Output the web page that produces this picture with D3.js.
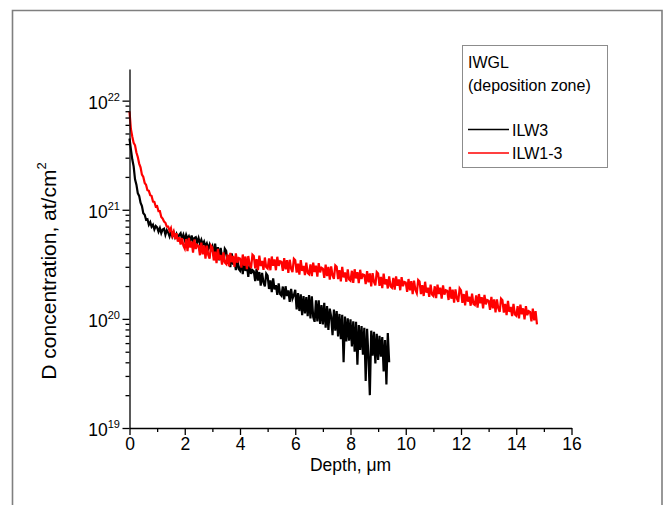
<!DOCTYPE html>
<html>
<head>
<meta charset="utf-8">
<script src="https://cdn.jsdelivr.net/npm/d3@7"></script>
<style>
  body { margin: 0; background: #fff; }
  svg { display: block; font-family: "Liberation Sans", Arial, sans-serif; }
</style>
</head>
<body>
<svg id="chart" width="665" height="505"></svg>
<script>
// depth step of the profiles, um
const depthStep = 0.05;

// ILW3, D concentration in units of 1e20 at/cm2, one value every 0.05 um from 0
const ilw3 = [
  45, 36, 29, 25, 19, 17, 14.2, 13.4, 11.6, 10.8,
  9.3, 9.0, 8.1, 8.2, 7.3, 7.7, 7.0, 7.3, 6.6, 7.1,
  6.9, 6.3, 6.8, 6.1, 6.6, 6.7, 5.9, 6.5, 6.2, 5.7,
  6.3, 5.7, 6.2, 5.6, 6.0, 5.5, 5.9, 6.1, 5.4, 5.9,
  5.3, 5.9, 5.4, 5.7, 5.2, 5.8, 5.1, 5.5, 5.6, 5.0,
  5.5, 4.9, 5.3, 4.8, 5.1, 4.6, 4.9, 4.4, 4.8, 4.3,
  4.62, 3.76, 4.89, 3.80, 4.55, 3.43, 4.47, 3.66, 3.36, 4.40,
  4.21, 3.19, 3.81, 2.98, 3.99, 3.14, 3.45, 2.80, 3.60, 2.87,
  2.76, 3.34, 2.57, 3.38, 2.75, 3.10, 2.43, 3.18, 2.58, 2.80,
  2.73, 2.22, 2.89, 2.24, 2.69, 2.02, 2.64, 2.16, 1.99, 2.60,
  2.49, 1.88, 2.25, 1.76, 2.35, 1.86, 2.04, 1.66, 2.12, 1.69,
  1.63, 1.98, 1.51, 1.99, 1.62, 1.82, 1.43, 1.88, 1.53, 1.65,
  1.85, 1.22, 1.72, 1.18, 1.68, 1.08, 1.62, 1.12, 1.58, 1.06,
  1.65, 1.01, 1.61, 1.04, 0.94, 1.48, 0.95, 1.48, 0.90, 1.34,
  0.89, 1.40, 0.83, 1.31, 0.79, 1.24, 1.05, 0.71, 1.22, 0.78,
  1.18, 0.69, 1.11, 0.65, 1.09, 0.40, 1.05, 0.62, 1.01, 0.63,
  0.99, 0.56, 0.95, 0.50, 0.94, 0.38, 0.88, 0.52, 0.86, 0.47,
  0.83, 0.27, 0.81, 0.45, 0.20, 0.78, 0.46, 0.76, 0.39, 0.73,
  0.42, 0.70, 0.45, 0.68, 0.33, 0.64, 0.25, 0.74, 0.40
];

// ILW1-3, same units and step
const ilw13 = [
  80, 55, 47, 41, 39, 33.5, 30.5, 26.5, 24.5, 21,
  20, 17.6, 16.9, 15.1, 14.9, 13.6, 13.4, 11.9, 11.8, 10.7,
  10.8, 9.7, 9.7, 8.6, 8.3, 7.8, 7.6, 7.0, 7.0, 6.4,
  6.8, 5.8, 6.3, 5.4, 6.1, 5.1, 5.6, 4.8, 5.5, 4.7,
  4.41, 5.39, 4.17, 5.52, 4.51, 5.12, 4.05, 5.34, 4.37, 4.77,
  4.67, 3.83, 5.00, 3.91, 4.72, 3.57, 4.69, 3.85, 3.56, 4.68,
  4.50, 3.43, 4.13, 3.25, 4.38, 3.48, 3.85, 3.15, 4.07, 3.28,
  3.18, 3.89, 3.03, 4.03, 3.31, 3.77, 2.99, 3.98, 3.28, 3.61,
  3.57, 2.95, 3.89, 3.07, 3.73, 2.85, 3.77, 3.13, 2.92, 3.87,
  3.76, 2.90, 3.52, 2.80, 3.80, 3.05, 3.40, 2.81, 3.65, 2.97,
  2.89, 3.58, 2.79, 3.73, 3.07, 3.51, 2.79, 3.71, 3.06, 3.37,
  3.33, 2.75, 3.61, 2.85, 3.45, 2.64, 3.48, 2.89, 2.68, 3.56,
  3.45, 2.66, 3.21, 2.54, 3.45, 2.75, 3.06, 2.52, 3.27, 2.64,
  2.57, 3.16, 2.46, 3.28, 2.69, 3.07, 2.44, 3.24, 2.67, 2.94,
  2.89, 2.38, 3.14, 2.47, 3.00, 2.29, 3.03, 2.50, 2.33, 3.09,
  3.00, 2.31, 2.79, 2.21, 3.00, 2.40, 2.66, 2.19, 2.84, 2.30,
  2.24, 2.76, 2.14, 2.85, 2.35, 2.68, 2.13, 2.82, 2.32, 2.55,
  2.52, 2.08, 2.74, 2.16, 2.61, 1.99, 2.63, 2.18, 2.03, 2.69,
  2.61, 2.01, 2.43, 1.91, 2.60, 2.07, 2.31, 1.90, 2.45, 1.98,
  1.93, 2.38, 1.85, 2.45, 2.01, 2.30, 1.83, 2.41, 1.99, 2.18,
  2.15, 1.77, 2.32, 1.83, 2.22, 1.69, 2.24, 1.84, 1.72, 2.27,
  2.20, 1.69, 2.04, 1.62, 2.19, 1.74, 1.93, 1.59, 2.06, 1.67,
  1.62, 1.99, 1.55, 2.06, 1.69, 1.93, 1.53, 2.03, 1.67, 1.83,
  1.81, 1.49, 1.96, 1.53, 1.85, 1.41, 1.86, 1.54, 1.43, 1.90,
  1.82, 1.40, 1.69, 1.33, 1.81, 1.44, 1.60, 1.32, 1.70, 1.37,
  1.34, 1.64, 1.27, 1.69, 1.39, 1.58, 1.25, 1.66, 1.36, 1.49,
  1.47, 1.21, 1.59, 1.25, 1.51, 1.15, 1.51, 1.25, 1.16, 1.53,
  1.48, 1.14, 1.37, 1.08, 1.46, 1.16, 1.29, 1.06, 1.37, 1.10,
  1.07, 1.31, 1.01, 1.35, 1.10, 1.25, 0.99, 1.31, 1.08, 1.18,
  1.16, 0.95, 1.24, 0.97, 1.18, 0.89
];

const xTicks = [0, 2, 4, 6, 8, 10, 12, 14, 16];
const xMinorTicks = [1, 3, 5, 7, 9, 11, 13, 15];
const yDecades = [19, 20, 21, 22];

const series = [
  { name: "ILW3", values: ilw3, color: "#000000" },
  { name: "ILW1-3", values: ilw13, color: "#ff0000" }
];

const svg = d3.select("#chart");
const font = "'Liberation Sans', Arial, sans-serif";

// outer frame (bottom edge is cut off in the original)
svg.append("path")
  .attr("d", "M12.5,520 L12.5,10.5 L662,10.5 L662,520")
  .attr("fill", "none")
  .attr("stroke", "#7f7f7f")
  .attr("stroke-width", 1.6);

const x = d3.scaleLinear().domain([0, 16]).range([129.5, 571.5]);
const y = d3.scaleLog().domain([1e19, Math.pow(10, 22.29)]).range([428, 69]);

// curves
const line = d3.line()
  .x((d, i) => x(i * depthStep))
  .y(d => y(d * 1e20));

svg.selectAll("path.curve")
  .data(series)
  .enter().append("path")
  .attr("class", "curve")
  .attr("d", d => line(d.values))
  .attr("fill", "none")
  .attr("stroke", d => d.color)
  .attr("stroke-width", 2.2)
  .attr("stroke-linejoin", "miter");

// x axis
const gx = svg.append("g").attr("transform", "translate(0,428)");
gx.call(d3.axisBottom(x).tickValues(xTicks).tickSize(7).tickSizeOuter(0).tickPadding(3));
gx.append("g")
  .call(d3.axisBottom(x).tickValues(xMinorTicks).tickSize(4).tickFormat(""))
  .select(".domain").remove();
gx.selectAll(".tick text")
  .attr("font-size", 17.5)
  .attr("font-family", font)
  .attr("fill", "#000");

// y axis
const gy = svg.append("g").attr("transform", "translate(129.5,0)");
gy.call(d3.axisLeft(y).tickValues(yDecades.map(e => Math.pow(10, e))).tickSize(7).tickSizeOuter(0).tickFormat(""));
const yMinor = [];
yDecades.slice(0, 3).forEach(e => {
  for (let k = 2; k <= 9; k++) yMinor.push(k * Math.pow(10, e));
});
gy.append("g")
  .call(d3.axisLeft(y).tickValues(yMinor).tickSize(4).tickFormat(""))
  .select(".domain").remove();

svg.selectAll(".domain, .tick line")
  .attr("stroke", "#000")
  .attr("stroke-width", 1.3);

// y tick labels 10^n
yDecades.forEach(e => {
  const t = svg.append("text")
    .attr("x", 120)
    .attr("y", y(Math.pow(10, e)) + 8)
    .attr("text-anchor", "end")
    .attr("font-family", font)
    .attr("font-size", 17.5);
  t.append("tspan").text("10");
  t.append("tspan").attr("font-size", 11).attr("dy", -8).text(e);
});

// axis titles
svg.append("text")
  .attr("x", x(8))
  .attr("y", 471)
  .attr("text-anchor", "middle")
  .attr("font-family", font)
  .attr("font-size", 17.5)
  .text("Depth, \u03bcm");

const yl = svg.append("text")
  .attr("transform", "translate(56,271) rotate(-90)")
  .attr("text-anchor", "middle")
  .attr("font-family", font)
  .attr("font-size", 21);
yl.append("tspan").text("D concentration, at/cm");
yl.append("tspan").attr("font-size", 13).attr("dy", -10).text("2");

// legend
const lg = svg.append("g");
lg.append("rect")
  .attr("x", 462.5).attr("y", 45.5)
  .attr("width", 145).attr("height", 122)
  .attr("fill", "#fff")
  .attr("stroke", "#8c8c8c")
  .attr("stroke-width", 1);
["IWGL", "(deposition zone)"].forEach((s, i) => {
  lg.append("text")
    .attr("x", 468).attr("y", 68 + i * 23)
    .attr("font-family", font).attr("font-size", 16)
    .text(s);
});
series.forEach((s, i) => {
  const ly = 129.5 + i * 23.5;
  lg.append("line")
    .attr("x1", 468).attr("x2", 509)
    .attr("y1", ly).attr("y2", ly)
    .attr("stroke", s.color).attr("stroke-width", 1.5);
  lg.append("text")
    .attr("x", 512).attr("y", ly + 6)
    .attr("font-family", font).attr("font-size", 16)
    .text(s.name);
});
</script>
</body>
</html>
